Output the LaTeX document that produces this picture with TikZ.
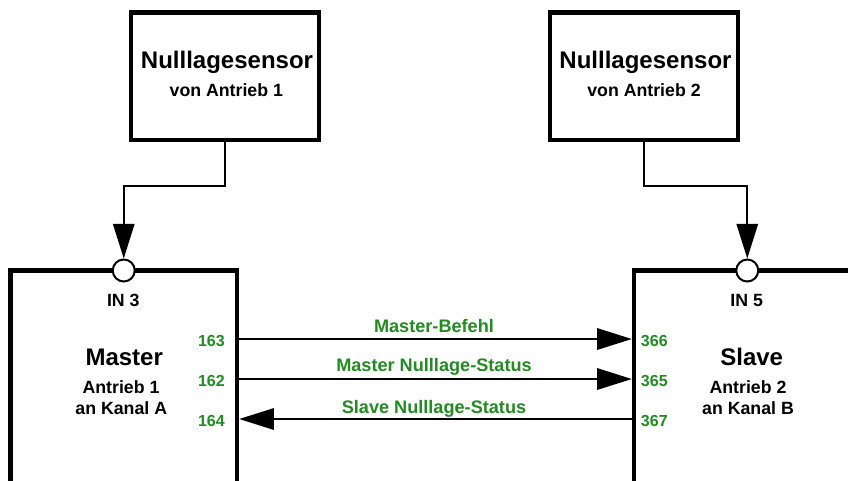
\documentclass[tikz,border=0pt]{standalone}
\usepackage{fontspec}
\setmainfont{Liberation Sans}
\usetikzlibrary{arrows.meta, positioning}
\definecolor{portgreen}{RGB}{34,139,34}

\begin{document}
\begin{tikzpicture} [x=0.75pt, y=-0.75pt,
   box/.style = {draw, line width=3.2pt, inner sep=0pt},
   port/.style = {draw, circle, fill=white, line width=1.5pt, minimum size=16.5pt, inner sep=0pt},
   sig/.style = {line width=1.5pt, -{Triangle[length=26pt, width=16pt]}},
   titel/.style = {font=\fontsize{18}{21}\selectfont\bfseries, anchor=base},
   unter/.style = {font=\fontsize{13.3}{16}\selectfont\bfseries, anchor=base},
   nr/.style = {font=\fontsize{12}{14}\selectfont\bfseries, text=portgreen, inner sep=0pt},
   funk/.style = {font=\fontsize{13.6}{16}\selectfont\bfseries, text=portgreen, anchor=base}]
   \useasboundingbox (0,0) rectangle (848,480);
   \clip (0,0) rectangle (848,480);

   % Sensoren
   \node (sens1)[box, minimum width=141pt, minimum height=95.6pt] at (225,76.25) {};
   \node (sens2)[box, minimum width=141pt, minimum height=95.6pt] at (644,76.25) {};
   \node (s1titel)[titel] at (227,68.3) {Nulllagesensor};
   \node (s1unter)[unter] at (226.3,96.7) {von Antrieb 1};
   \node (s2titel)[titel] at (645.5,68.3) {Nulllagesensor};
   \node (s2unter)[unter] at (644,96.7) {von Antrieb 2};

   % Antriebe
   \node (master)[box, minimum width=169.9pt, minimum height=187.1pt] at (123.75,395.25) {};
   \node (slave)[box, minimum width=169.9pt, minimum height=187.1pt] at (747.25,395.25) {};
   \node (in3)[port] at (123.75,270.5) {};
   \node (in5)[port] at (747.25,270.5) {};

   \node (in3txt)[unter] at (123.3,306) {IN 3};
   \node (mtitel)[titel] at (124.2,365.7) {Master};
   \node (mzeile1)[unter] at (121,393.3) {Antrieb 1};
   \node (mzeile2)[unter] at (121.3,414.3) {an Kanal A};

   \node (in5txt)[unter] at (746.7,306) {IN 5};
   \node (stitel)[titel] at (751.7,365.7) {Slave};
   \node (szeile1)[unter] at (748,393.3) {Antrieb 2};
   \node (szeile2)[unter] at (748,414.3) {an Kanal B};

   % Anschlussnummern
   \node (n163)[nr, anchor=base east] at (225,346) {163};
   \node (n162)[nr, anchor=base east] at (225,386) {162};
   \node (n164)[nr, anchor=base east] at (225,426) {164};
   \node (n366)[nr, anchor=base west] at (640.7,346) {366};
   \node (n365)[nr, anchor=base west] at (640.7,386) {365};
   \node (n367)[nr, anchor=base west] at (640.7,426) {367};

   % Verbindungen
   \draw[sig] (sens1.south) -- ++(0,44) -| (in3.north);
   \draw[sig] (sens2.south) -- ++(0,44) -| (in5.north);

   \draw[sig] (master.east |- 0,339) -- (slave.west |- 0,339);
   \draw[sig] (master.east |- 0,379) -- (slave.west |- 0,379);
   \draw[sig] (slave.west |- 0,419) -- (master.east |- 0,419);

   \node (befehl)[funk] at (434,332.3) {Master-Befehl};
   \node (mstatus)[funk] at (434,371.7) {Master Nulllage-Status};
   \node (sstatus)[funk] at (434,413.3) {Slave Nulllage-Status};
\end{tikzpicture}
\end{document}
